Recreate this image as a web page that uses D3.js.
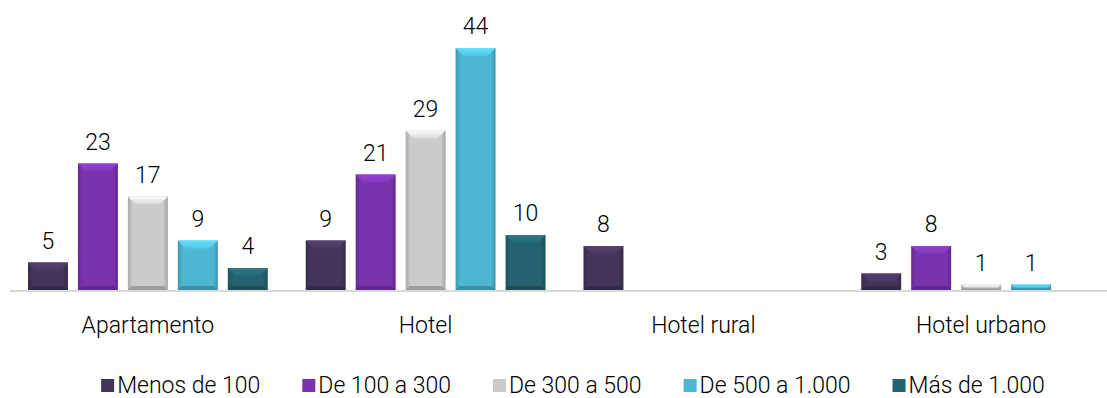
<!DOCTYPE html>
<html>
<head>
<meta charset="utf-8">
<script src="https://cdn.jsdelivr.net/npm/d3@7"></script>
<style>
  body { margin: 0; background: #fff; }
  svg text { font-family: Roboto, "DejaVu Sans", sans-serif; font-weight: 300; fill: #000; }
</style>
</head>
<body>
<svg width="1107" height="398"></svg>
<script>
const svg = d3.select("svg");

const categories = ["Apartamento", "Hotel", "Hotel rural", "Hotel urbano"];
const seriesNames = ["Menos de 100", "De 100 a 300", "De 300 a 500", "De 500 a 1.000", "Más de 1.000"];
const menos100 = [5, 9, 8, 3];
const de100a300 = [23, 21, null, 8];
const de300a500 = [17, 29, null, 1];
const de500a1000 = [9, 44, null, 1];
const mas1000 = [4, 10, null, null];
const seriesValues = [menos100, de100a300, de300a500, de500a1000, mas1000];
const colors = ["#43355a", "#7a33ae", "#cbcbcb", "#4db7d3", "#24626f"];

const baseY = 290;
const x0 = d3.scaleBand().domain(categories).range([9, 1120]);
const x1 = d3.scaleBand().domain(seriesNames).range([0, x0.bandwidth()])
  .paddingInner(0.2).paddingOuter(0.38);
const y = d3.scaleLinear().domain([0, 44]).range([baseY, 48]);

// gradients per series
const defs = svg.append("defs");
colors.forEach((c, i) => {
  const g = defs.append("linearGradient").attr("id", "g" + i)
    .attr("x1", 0).attr("x2", 1).attr("y1", 0).attr("y2", 0);
  g.append("stop").attr("offset", "0").attr("stop-color", d3.color(c).darker(0.5));
  g.append("stop").attr("offset", "0.12").attr("stop-color", c);
  g.append("stop").attr("offset", "0.88").attr("stop-color", c);
  g.append("stop").attr("offset", "1").attr("stop-color", d3.color(c).darker(0.6));
  const t = defs.append("linearGradient").attr("id", "t" + i)
    .attr("x1", 0).attr("x2", 0).attr("y1", 0).attr("y2", 1);
  t.append("stop").attr("offset", "0").attr("stop-color", d3.color(c).brighter(0.6));
  t.append("stop").attr("offset", "1").attr("stop-color", d3.color(c).brighter(0.2));
});

// baseline
svg.append("line")
  .attr("x1", 10).attr("x2", 1107)
  .attr("y1", baseY + 1).attr("y2", baseY + 1)
  .attr("stroke", "#d9d9d9").attr("stroke-width", 2);

const rows = [];
categories.forEach((cat, ci) => {
  seriesNames.forEach((s, si) => {
    const v = seriesValues[si][ci];
    if (v != null) rows.push({ cat, s, si, v });
  });
});

const bars = svg.append("g").selectAll("g").data(rows).join("g")
  .attr("transform", d => `translate(${x0(d.cat) + x1(d.s)},0)`);

const bw = x1.bandwidth();

bars.append("rect")
  .attr("x", 0)
  .attr("y", d => y(d.v))
  .attr("width", bw)
  .attr("height", d => baseY - y(d.v))
  .attr("fill", d => `url(#g${d.si})`);

// top bevel
bars.append("path")
  .attr("d", d => {
    const top = y(d.v), h = baseY - top;
    const b = Math.min(8, h / 2);
    return `M0,${top} L${bw},${top} L${bw - b},${top + b} L${b},${top + b} Z`;
  })
  .attr("fill", d => `url(#t${d.si})`);

// bottom bevel darker
bars.append("path")
  .attr("d", d => {
    const top = y(d.v), h = baseY - top;
    const b = Math.min(4, h / 3);
    return `M0,${baseY} L${bw},${baseY} L${bw - b},${baseY - b} L${b},${baseY - b} Z`;
  })
  .attr("fill", d => d3.color(colors[d.si]).darker(0.7));

// value labels
bars.append("text")
  .attr("x", bw / 2)
  .attr("y", d => y(d.v) - 14)
  .attr("text-anchor", "middle")
  .attr("font-size", 23)
  .text(d => d.v);

// category labels
svg.append("g").selectAll("text").data(categories).join("text")
  .attr("x", d => x0(d) + x1("De 300 a 500") + bw / 2)
  .attr("y", 333)
  .attr("text-anchor", "middle")
  .attr("font-size", 23)
  .text(d => d);

// legend
const legend = svg.append("g");
const items = legend.selectAll("g").data(seriesNames).join("g");
items.append("rect")
  .attr("width", 13).attr("height", 13)
  .attr("y", -14)
  .attr("fill", (d, i) => colors[i]);
items.append("text")
  .attr("x", 16)
  .attr("font-size", 23)
  .text(d => d);
const gap = 42;
const widths = [];
items.each(function () { widths.push(16 + this.querySelector("text").getComputedTextLength()); });
const total = d3.sum(widths) + gap * (widths.length - 1);
let start = 573 - total / 2;
items.attr("transform", (d, i) => {
  const t = `translate(${start},393)`;
  start += widths[i] + gap;
  return t;
});
</script>
</body>
</html>
